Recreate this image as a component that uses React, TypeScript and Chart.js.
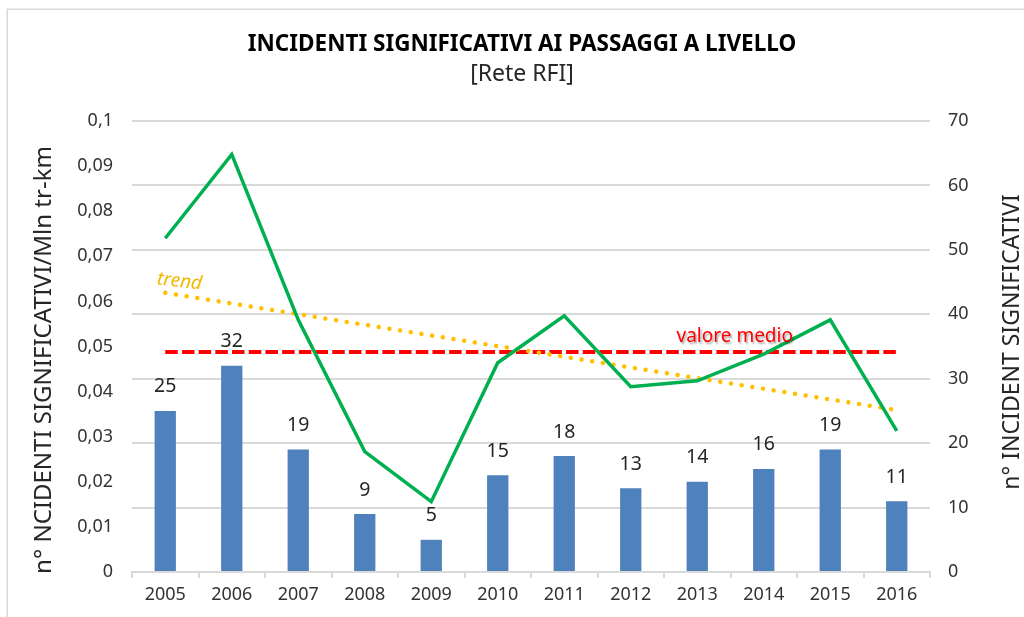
import React, { useEffect, useRef } from 'react';
import { Chart, registerables } from 'chart.js';

Chart.register(...registerables);

// ---- data ----
const years = ['2005', '2006', '2007', '2008', '2009', '2010', '2011', '2012', '2013', '2014', '2015', '2016'];
const incidentCounts = [25, 32, 19, 9, 5, 15, 18, 13, 14, 16, 19, 11];
const incidentRate = [0.074, 0.0926, 0.0559, 0.0267, 0.0156, 0.0464, 0.0568, 0.0411, 0.0424, 0.0483, 0.0559, 0.0313];
const meanRate = [0.0488, 0.0488, 0.0488, 0.0488, 0.0488, 0.0488, 0.0488, 0.0488, 0.0488, 0.0488, 0.0488, 0.0488];
const trendRate = [0.0619, null, null, null, null, null, null, null, null, null, null, 0.0359];

const titleText = 'INCIDENTI SIGNIFICATIVI AI PASSAGGI A LIVELLO';
const subtitleText = '[Rete RFI]';
const leftAxisTitle = 'n° NCIDENTI SIGNIFICATIVI/Mln tr-km';
const rightAxisTitle = 'n° INCIDENT SIGNIFICATIVI';
const trendLabel = 'trend';
const meanLabel = 'valore medio';

const FONT = '"Noto Sans", "DejaVu Sans", sans-serif';

const decorPlugin = {
  id: 'decor',
  beforeDraw(chart: any) {
    const ctx = chart.ctx;
    ctx.save();
    ctx.strokeStyle = '#d9d9d9';
    ctx.lineWidth = 1.5;
    ctx.strokeRect(7.25, 9.25, 1300, 900);
    ctx.restore();
  },
  afterDatasetsDraw(chart: any) {
    const ctx = chart.ctx;
    ctx.save();
    // bar value labels
    const barMeta = chart.getDatasetMeta(0);
    ctx.font = `19.5px ${FONT}`;
    ctx.fillStyle = '#262626';
    ctx.textAlign = 'center';
    ctx.textBaseline = 'middle';
    barMeta.data.forEach((el: any, i: number) => {
      ctx.fillText(String(incidentCounts[i]), el.x, el.y - 24);
    });

    // trend label
    const trendMeta = chart.getDatasetMeta(2);
    const p0 = trendMeta.data[0];
    ctx.save();
    ctx.translate(p0.x - 8, p0.y - 14);
    ctx.rotate(0.12);
    ctx.font = `italic 19px ${FONT}`;
    ctx.fillStyle = '#f2b800';
    ctx.textAlign = 'left';
    ctx.fillText(trendLabel, 0, 0);
    ctx.restore();

    // mean label
    const meanMeta = chart.getDatasetMeta(1);
    const m = meanMeta.data[9];
    ctx.save();
    ctx.font = `19px ${FONT}`;
    ctx.fillStyle = '#ff0000';
    ctx.textAlign = 'center';
    ctx.shadowColor = 'rgba(0,0,0,0.35)';
    ctx.shadowOffsetX = 1.5;
    ctx.shadowOffsetY = 1.5;
    ctx.shadowBlur = 2;
    ctx.fillText(meanLabel, m.x - 29, m.y - 15);
    ctx.restore();
    ctx.restore();
  },
  afterDraw(chart: any) {
    const ctx = chart.ctx;
    ctx.save();
    ctx.textAlign = 'center';
    ctx.textBaseline = 'middle';
    ctx.fillStyle = '#000';
    ctx.font = `bold 22.5px ${FONT}`;
    ctx.fillText(titleText, 522, 45);
    ctx.fillStyle = '#262626';
    ctx.font = `23px ${FONT}`;
    ctx.fillText(subtitleText, 522, 74);

    ctx.font = `24px ${FONT}`;
    ctx.save();
    ctx.translate(44, 360);
    ctx.rotate(-Math.PI / 2);
    ctx.fillText(leftAxisTitle, 0, 0);
    ctx.restore();

    ctx.font = `23px ${FONT}`;
    ctx.save();
    ctx.translate(1012, 342);
    ctx.rotate(-Math.PI / 2);
    ctx.fillText(rightAxisTitle, 0, 0);
    ctx.restore();
    ctx.restore();
  },
};

export default function App() {
  const canvasRef = useRef<HTMLCanvasElement | null>(null);

  useEffect(() => {
    if (!canvasRef.current) return;
    const tickFont = { family: FONT, size: 18 };
    const chart = new Chart(canvasRef.current, {
      type: 'bar',
      data: {
        labels: years,
        datasets: [
          {
            type: 'bar',
            label: 'n° incidenti',
            data: incidentCounts,
            yAxisID: 'y1',
            backgroundColor: '#4f81bd',
            borderWidth: 0,
            categoryPercentage: 1,
            barPercentage: 0.32,
            order: 4,
          } as any,
          {
            type: 'line',
            label: 'valore medio',
            data: meanRate,
            yAxisID: 'y',
            borderColor: '#ff0000',
            borderWidth: 4,
            borderDash: [12.5, 4.2],
            borderCapStyle: 'butt',
            pointRadius: 0,
            fill: false,
            order: 3,
          } as any,
          {
            type: 'line',
            label: 'trend',
            data: trendRate,
            yAxisID: 'y',
            borderColor: '#ffc000',
            borderWidth: 4.5,
            borderDash: [0.01, 10.8],
            borderCapStyle: 'round',
            spanGaps: true,
            pointRadius: 0,
            fill: false,
            order: 2,
          } as any,
          {
            type: 'line',
            label: 'n° incidenti / Mln tr-km',
            data: incidentRate,
            yAxisID: 'y',
            borderColor: '#00b050',
            borderWidth: 3.5,
            borderJoinStyle: 'miter',
            pointRadius: 0,
            tension: 0,
            fill: false,
            order: 1,
          } as any,
        ],
      },
      options: {
        responsive: true,
        maintainAspectRatio: false,
        animation: false,
        layout: { padding: { top: 121, left: 0, right: 0, bottom: 0 } },
        plugins: {
          legend: { display: false },
          title: { display: false },
          tooltip: { enabled: false },
        },
        scales: {
          x: {
            offset: true,
            grid: {
              offset: true,
              drawOnChartArea: false,
              drawTicks: true,
              tickLength: 6,
              color: '#d9d9d9',
              lineWidth: 2,
            },
            border: { display: true, color: '#d9d9d9', width: 2 },
            ticks: { font: tickFont, color: '#333', padding: 6, maxRotation: 0 },
            afterFit: (s: any) => {
              s.height = 45;
            },
          },
          y: {
            position: 'left',
            min: 0,
            max: 0.1,
            grid: { display: false, drawTicks: false },
            border: { display: false },
            ticks: {
              stepSize: 0.01,
              font: tickFont,
              color: '#333',
              padding: 19,
              callback: (v: any) => parseFloat(Number(v).toFixed(2)).toString().replace('.', ','),
            },
            afterFit: (s: any) => {
              s.width = 132;
            },
          },
          y1: {
            position: 'right',
            min: 0,
            max: 70,
            grid: { color: '#d9d9d9', lineWidth: 2, drawTicks: false },
            border: { display: false },
            ticks: { stepSize: 10, font: tickFont, color: '#333', padding: 18 },
            afterFit: (s: any) => {
              s.width = 94;
            },
          },
        },
      } as any,
      plugins: [decorPlugin],
    });
    return () => chart.destroy();
  }, []);

  return (
    <div style={{ position: 'fixed', left: 0, top: 0, width: 1024, height: 617, background: '#fff' }}>
      <canvas ref={canvasRef} />
    </div>
  );
}
